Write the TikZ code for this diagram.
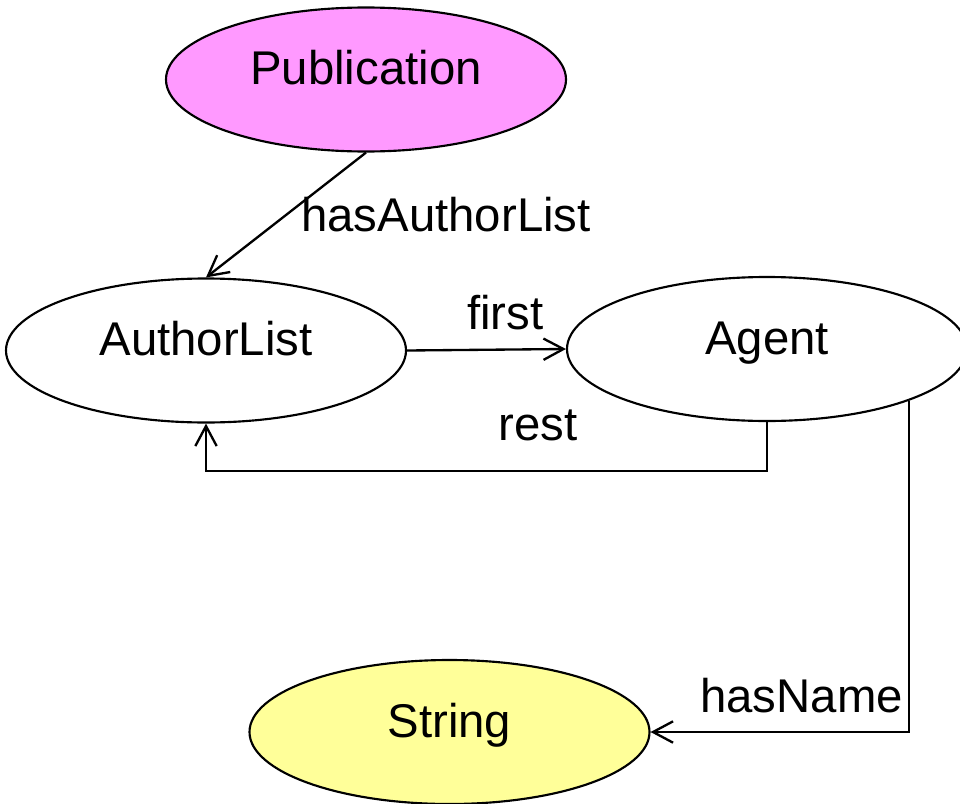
\documentclass[tikz,border=0pt]{standalone}
\usepackage{fontspec}
\setmainfont{Liberation Sans}
\usetikzlibrary{shapes.geometric,arrows.meta}

\definecolor{pubpink}{HTML}{FF99FF}
\definecolor{stryellow}{HTML}{FFFF99}

\tikzset{
  cls/.style={ellipse, draw=black, line width=1.6pt,
    minimum width=300pt, minimum height=108pt, inner sep=0pt,
    font=\fontsize{35.5pt}{40pt}\selectfont,
    text height=17.75pt, text depth=10.25pt},
  lbl/.style={inner sep=0pt, font=\fontsize{35.5pt}{40pt}\selectfont},
  rel/.style={line width=1.75pt, -{Straight Barb[length=15pt,width=16pt,line width=1.75pt]}}
}

\begin{document}
\begin{tikzpicture}[x=0.75pt, y=-0.75pt]
  \useasboundingbox (0,0) rectangle (960,803);
  \clip (0,0) rectangle (960,803);

  % classes
  \node[cls, fill=pubpink]   (pub) at (366,79.5) {Publication};
  \node[cls, fill=white]     (al)  at (206,350.5) {AuthorList};
  \node[cls, fill=white]     (ag)  at (767,349)  {Agent};
  \node[cls, fill=stryellow] (str) at (449.5,732) {String};

  % properties
  \draw[rel] (pub.south) -- (al.north);
  \draw[rel] (al.east) -- (ag.west);
  \draw[rel] (ag.south) -- ++(0,49) -| (al.south);
  \draw[rel] (ag.-20.2) |- (str.east);

  % property labels
  \node[lbl, anchor=base west] (lhas)   at (301,231) {hasAuthorList};
  \node[lbl, anchor=base west] (lfirst) at (467,329) {first};
  \node[lbl, anchor=base west] (lrest)  at (498,440) {rest};
  \node[lbl, anchor=base west] (lname)  at (700,712) {hasName};
\end{tikzpicture}
\end{document}
